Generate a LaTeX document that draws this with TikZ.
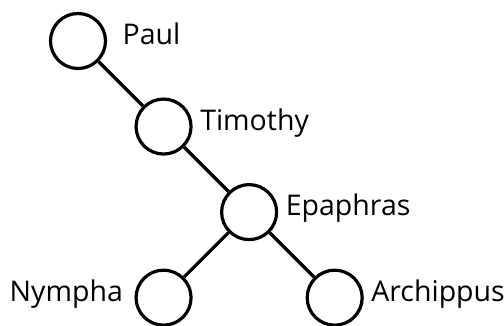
\documentclass[tikz,border=0pt]{standalone}
\usepackage{fontspec}
\setmainfont{Open Sans}
\begin{document}
\begin{tikzpicture}
  [x=1pt,y=1pt,
  every node/.style={circle,draw,line width=3.2pt,minimum size=55pt,inner sep=0pt},
  every label/.style={draw=none,rectangle,minimum size=0pt,font=\fontsize{28.5}{32}\selectfont,
    text height=0.72em,text depth=0em,inner sep=0pt},
  label distance=6pt,
  level distance=121pt,
  sibling distance=0pt,
  edge from parent/.style={draw,line width=3.2pt}]
\useasboundingbox (0,0) rectangle (504,326);
\node (paul) at (78,285) [label={[label distance=14pt]east:Paul}] {}
child[grow=south east] {node (timothy) [label=east:Timothy] {}
  child[grow=south east] {node (epaphras) [label=east:Epaphras] {}
    child[grow=south west] {node (nympha) [label={[label distance=10pt]west:Nympha}] {}}
    child[grow=south east] {node (archippus) [label=east:Archippus] {}}
  }
};
\end{tikzpicture}
\end{document}
